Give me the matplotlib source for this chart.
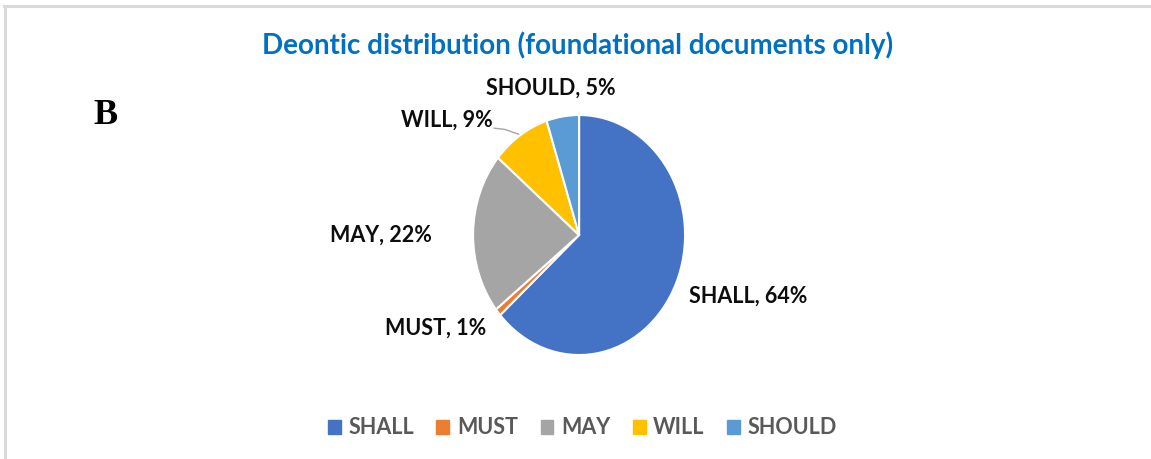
import matplotlib.pyplot as plt
from matplotlib.lines import Line2D
from matplotlib.patches import Rectangle

# share of each deontic term in the foundational documents (%)
terms = ['SHALL', 'MUST', 'MAY', 'WILL', 'SHOULD']
shares = [64, 1, 22, 9, 5]
colors = ['#4472C4', '#ED7D31', '#A5A5A5', '#FFC000', '#5B9BD5']

# where each "TERM, x%" label sits, in pie data units
label_xy = [(1.60, -0.51), (-1.35, -0.78), (-1.87, 0.0), (-1.25, 0.96), (-0.27, 1.22)]

plt.rcParams['font.family'] = ['Lato', 'DejaVu Sans']

fig = plt.figure(figsize=(11.51, 4.59), dpi=100)

# light frame on the top and left edges
fig.add_artist(Line2D([0.0035, 1.0], [0.987, 0.987], color='#D9D9D9', lw=2.2))
fig.add_artist(Line2D([0.0045, 0.0045], [0.0, 0.987], color='#D9D9D9', lw=2.2))

ax = fig.add_axes([0.3880, 0.1612, 0.2302, 0.6536])
wedges, _ = ax.pie(shares, colors=colors, startangle=90, counterclock=False,
                   wedgeprops=dict(edgecolor='white', linewidth=1.5))
ax.set_aspect('auto')
ax.set_xlim(-1.25, 1.25)
ax.set_ylim(-1.25, 1.25)

for term, val, (lx, ly) in zip(terms, shares, label_xy):
    ax.text(lx, ly, f'{term}, {val}%', ha='center', va='center',
            fontsize=15.5, fontweight='bold', color='#0D0D0D', clip_on=False)

# leader line for the WILL label
ax.plot([-0.80, -0.70, -0.57], [0.89, 0.88, 0.84], color='#A6A6A6', lw=1,
        clip_on=False)

fig.text(0.502, 0.902, 'Deontic distribution (foundational documents only)',
         ha='center', va='center', fontsize=20, fontweight='bold', color='#0070C0')
fig.text(0.092, 0.748, 'B', ha='center', va='center', fontsize=26,
         fontweight='bold', family='Liberation Serif', color='black')

handles = [Rectangle((0, 0), 1, 1, color=c) for c in colors]
fig.legend(handles, terms, loc='center', bbox_to_anchor=(0.506, 0.068), ncol=5,
           frameon=False, handlelength=0.6, handleheight=0.6, handletextpad=0.35,
           columnspacing=1.05, prop=dict(size=15.5, weight='bold'), labelcolor='#595959')

fig.savefig('out.png', dpi=100)
